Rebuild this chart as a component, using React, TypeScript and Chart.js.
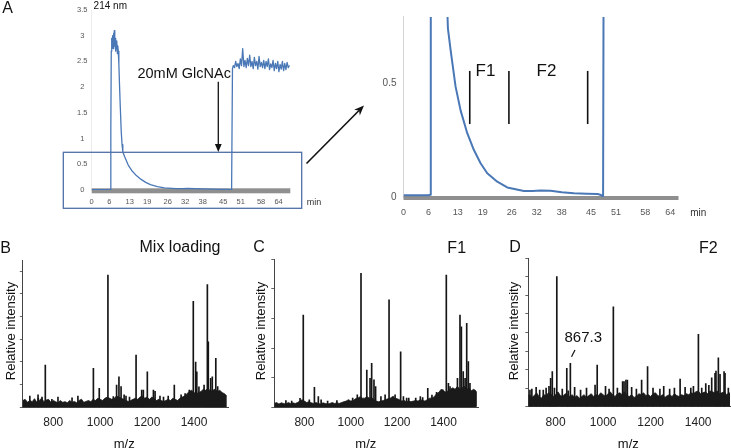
import React, { useEffect, useRef } from 'react';
import { Chart, registerables } from 'chart.js';

Chart.register(...registerables);

const FONT = '"Liberation Sans", Arial, Helvetica, sans-serif';
Chart.defaults.font.family = FONT;

// ---------- Panel A: UV trace (214 nm) ----------
const chromTime = [
  0, 2, 4, 6, 6.4, 6.55, 6.7, 6.85, 7.0, 7.15, 7.3, 7.45, 7.6, 7.75, 7.9, 8.05, 8.2, 8.35, 8.5, 8.65,
  8.8, 8.95, 9.1, 9.3, 9.55, 9.8, 10.1, 10.4, 10.66, 11.3, 12.5, 13.7, 15.3, 16.9, 18.5, 20.1, 22.5,
  24.9, 28.9, 31, 32.9, 35.3, 38, 40.9, 44, 46.6, 47.4, 47.9, 48.2, 48.5, 48.9, 49.3, 49.7, 50.1,
  50.5, 50.9, 51.3, 51.7, 52.1, 52.5, 52.9, 53.3, 53.7, 54.1, 54.5, 54.9, 55.3, 55.7, 56.1, 56.5,
  56.9, 57.3, 57.7, 58.1, 58.5, 58.9, 59.3, 59.7, 60.1, 60.5, 60.9, 61.3, 61.7, 62.1, 62.5, 62.9,
  63.3, 63.7, 64.1, 64.5, 64.9, 65.3, 65.7, 66.1, 66.5, 66.9, 67.3, 67.7,
];
const chromAbs = [
  0.008, 0.008, 0.008, 0.008, 0.01, 1.2, 2.7, 2.95, 2.8, 3.0, 2.75, 3.05, 2.85, 3.1, 2.8, 2.95, 2.7, 2.9, 2.75, 2.9,
  2.65, 2.8, 2.7, 2.45, 2.0, 1.6, 1.15, 0.88, 0.74, 0.645, 0.484, 0.38, 0.28, 0.206, 0.148, 0.104, 0.067,
  0.042, 0.026, 0.026, 0.029, 0.027, 0.021, 0.016, 0.014, 0.013, 0.009, 0.0, 2.36, 2.42, 2.38, 2.5, 2.4, 2.46,
  2.36, 2.55, 2.42, 2.75, 2.4, 2.52, 2.38, 2.56, 2.42, 2.62, 2.4, 2.5, 2.36, 2.58, 2.42, 2.5,
  2.35, 2.6, 2.4, 2.48, 2.38, 2.52, 2.36, 2.5, 2.4, 2.55, 2.34, 2.45, 2.38, 2.52, 2.32, 2.46,
  2.36, 2.5, 2.3, 2.44, 2.35, 2.5, 2.32, 2.46, 2.34, 2.48, 2.38, 2.42,
];
const timeTicks = [0, 6, 13, 19, 26, 32, 38, 45, 51, 58, 64];
const overviewYTicks = [0, 0.5, 1, 1.5, 2, 2.5, 3, 3.5];
const zoomYTicks = [0, 0.5];
const fractionBounds = [15.9, 25.3, 44.2];
const fractionSpan = [0.32, 0.553];

// ---------- Panels B-D: MALDI spectra ----------
const mzTicks = [800, 1000, 1200, 1400];
const noiseMz = [
  670, 680, 690, 700, 710, 720, 730, 740, 750, 760, 770, 780, 790, 800, 810, 820, 830, 840, 850,
  860, 870, 880, 890, 900, 910, 920, 930, 940, 950, 960, 970, 980, 990, 1000, 1010, 1020, 1030,
  1040, 1050, 1060, 1070, 1080, 1090, 1100, 1110, 1120, 1130, 1140, 1150, 1160, 1170, 1180, 1190,
  1200, 1210, 1220, 1230, 1240, 1250, 1260, 1270, 1280, 1290, 1300, 1310, 1320, 1330, 1340, 1350,
  1360, 1370, 1380, 1390, 1400, 1410, 1420, 1430, 1440, 1450, 1460, 1470, 1480, 1490, 1500, 1510,
  1520, 1530, 1540,
];
const noiseB = [
  0.3, 0.35, 0.22, 0.3, 0.25, 0.38, 0.22, 0.3, 0.4,
  0.25, 0.32, 0.35, 0.22, 0.3, 0.25, 0.2, 0.3, 0.22, 0.25,
  0.2, 0.3, 0.22, 0.26, 0.2, 0.3, 0.36, 0.22, 0.26, 0.3,
  0.25, 0.35, 0.3, 0.4, 0.35, 0.3, 0.4, 0.45, 0.4, 0.35,
  0.4, 0.5, 0.45, 0.4, 0.35, 0.3, 0.26, 0.3, 0.35, 0.4,
  0.35, 0.45, 0.5, 0.4, 0.45, 0.35, 0.45, 0.4, 0.3, 0.35,
  0.3, 0.26, 0.3, 0.35, 0.3, 0.4, 0.35, 0.3, 0.4, 0.45,
  0.5, 0.6, 0.7, 0.75, 0.65, 0.6, 0.65, 0.7, 0.8, 0.75,
  0.85, 0.7, 0.75, 0.8, 0.7, 0.75, 0.65, 0.6, 0.5,
];
const noiseC = [
  0.12, 0.15, 0.1, 0.14, 0.12, 0.1, 0.15, 0.12, 0.14,
  0.12, 0.15, 0.2, 0.25, 0.2, 0.15, 0.18, 0.14, 0.12, 0.15,
  0.12, 0.1, 0.14, 0.12, 0.1, 0.12, 0.15, 0.12, 0.14, 0.12,
  0.15, 0.18, 0.2, 0.25, 0.2, 0.22, 0.28, 0.3, 0.35, 0.3,
  0.3, 0.35, 0.3, 0.32, 0.25, 0.2, 0.18, 0.2, 0.22, 0.25,
  0.28, 0.3, 0.35, 0.3, 0.28, 0.25, 0.2, 0.22, 0.18, 0.2,
  0.18, 0.2, 0.22, 0.2, 0.25, 0.22, 0.2, 0.25, 0.3, 0.3,
  0.35, 0.45, 0.5, 0.6, 0.55, 0.5, 0.55, 0.6, 0.65, 0.6,
  0.7, 0.6, 0.65, 0.7, 0.6, 0.65, 0.55, 0.6, 0.55,
];
const noiseD = [
  0.45, 0.55, 0.65, 0.5, 0.6, 0.75, 0.55, 0.45, 0.65,
  0.6, 0.75, 0.7, 0.55, 0.65, 0.8, 0.6, 0.55, 0.7, 0.65,
  0.55, 0.65, 0.5, 0.6, 0.45, 0.55, 0.65, 0.5, 0.6, 0.7,
  0.55, 0.65, 0.6, 0.75, 0.65, 0.55, 0.7, 0.8, 0.65, 0.55,
  0.7, 0.75, 0.65, 0.8, 0.6, 0.55, 0.65, 0.5, 0.55, 0.7,
  0.65, 0.75, 0.6, 0.65, 0.55, 0.7, 0.75, 0.6, 0.55, 0.65,
  0.5, 0.6, 0.65, 0.55, 0.7, 0.6, 0.55, 0.65, 0.6, 0.7,
  0.65, 0.75, 0.7, 0.8, 0.85, 0.7, 0.75, 0.8, 0.7, 0.85,
  0.8, 0.75, 0.85, 0.7, 0.75, 0.8, 0.65, 0.75, 0.7,
];

const peaksMzB = [
  700, 735, 736, 752, 766, 794, 820, 880, 905, 971, 996, 1033, 1056, 1070, 1080, 1089, 1102, 1110, 1125,
  1153, 1177, 1184, 1201, 1227, 1234, 1255, 1270, 1290, 1316, 1345, 1362, 1380, 1397, 1407, 1412, 1421,
  1443, 1457, 1461, 1471, 1478, 1493, 1501, 1511, 1525,
];
const peaksIntB = [
  0.5, 0.55, 0.4, 0.45, 1.86, 0.35, 0.45, 0.42, 0.5, 1.72, 0.84, 5.83, 0.47, 0.98, 1.35, 0.91, 0.55, 0.5, 0.45,
  2.3, 0.76, 0.76, 1.57, 0.76, 0.7, 0.5, 0.45, 0.5, 0.98, 0.55, 0.6, 0.76, 4.68, 2.0, 1.57, 0.9,
  0.98, 5.42, 2.89, 1.28, 1.35, 2.16, 0.91, 0.62, 0.55,
];

const peaksMzC = [
  720, 745, 781, 795, 821, 843, 860, 872, 900, 940, 1008, 1028, 1044, 1069, 1083, 1090, 1100, 1107, 1130,
  1148, 1165, 1183, 1191, 1215, 1227, 1241, 1250, 1280, 1300, 1310, 1332, 1350, 1370, 1397, 1412, 1421,
  1428, 1460, 1471, 1477, 1485, 1493, 1500, 1507, 1514, 1529, 1540,
];
const peaksIntC = [
  0.22, 0.2, 0.29, 3.12, 0.24, 0.67, 0.35, 0.24, 0.2, 0.22, 0.3, 0.41, 4.53, 1.25, 0.97, 1.48, 0.92, 0.69, 0.35,
  0.41, 3.63, 0.35, 0.41, 1.87, 0.35, 0.3, 0.3, 0.3, 0.35, 0.32, 0.63, 0.4, 0.5, 0.58, 4.47, 0.8,
  0.69, 0.97, 3.12, 2.72, 1.2, 0.97, 2.84, 1.54, 0.8, 0.52, 0.52,
];

const peaksMzD = [
  692, 700, 718, 733, 748, 760, 772, 779, 786, 795, 805, 828, 847, 853, 862, 880, 905, 930, 966, 975,
  1010, 1025, 1043, 1060, 1082, 1088, 1096, 1102, 1120, 1140, 1162, 1187, 1210, 1239, 1255, 1280, 1300,
  1324, 1345, 1369, 1380, 1401, 1415, 1432, 1445, 1457, 1471, 1475, 1485, 1492, 1509, 1513, 1527,
];
const peaksIntD = [
  0.9, 0.95, 1.05, 0.9, 0.9, 1.0, 1.1, 1.53, 1.89, 1.0, 7.01, 0.95, 2.07, 0.86, 2.34, 1.05, 0.9, 1.0, 1.17, 2.25,
  1.1, 0.95, 5.39, 1.0, 1.35, 1.35, 1.44, 1.44, 1.05, 0.95, 1.44, 2.16, 1.0, 0.95, 1.1, 0.95, 1.0,
  1.49, 1.05, 1.0, 1.1, 3.9, 1.0, 1.25, 1.15, 1.56, 1.8, 1.92, 2.64, 1.75, 1.9, 1.8, 1.0,
];
const yTicksB = [0, 1, 2, 3, 4, 5, 6];
const yTicksC = [0, 1, 2, 3, 4, 5];
const yTicksD = [0, 1, 2, 3, 4, 5, 6, 7, 8];

// ---------- helpers ----------
type Box = { x: number; y: number; w: number; h: number };
type Plot = { l: number; t: number; r: number; b: number };

const BLUE = '#4a78b6';

function framePadding(box: Box, plot: Plot, yW: number, xH: number) {
  return {
    left: plot.l - box.x - yW,
    top: plot.t - box.y,
    right: box.x + box.w - plot.r,
    bottom: box.y + box.h - plot.b - xH,
  };
}

const axisBarPlugin = {
  id: 'axisBar',
  beforeDatasetsDraw(chart: any, _args: any, opts: any) {
    const { ctx, chartArea, scales } = chart;
    const x0 = scales.x.getPixelForValue(0);
    const y0 = scales.y.getPixelForValue(0);
    ctx.save();
    ctx.fillStyle = opts.color;
    ctx.fillRect(x0, y0 + opts.offset, chartArea.right - x0, opts.thickness);
    ctx.restore();
  },
};

const fractionPlugin = {
  id: 'fractionMarks',
  afterDatasetsDraw(chart: any) {
    const { ctx, scales } = chart;
    ctx.save();
    ctx.strokeStyle = '#111';
    ctx.lineWidth = 1.6;
    fractionBounds.forEach((t) => {
      const px = scales.x.getPixelForValue(t);
      ctx.beginPath();
      ctx.moveTo(px, scales.y.getPixelForValue(fractionSpan[1]));
      ctx.lineTo(px, scales.y.getPixelForValue(fractionSpan[0]));
      ctx.stroke();
    });
    ctx.restore();
  },
};

function chromChart(
  canvas: HTMLCanvasElement,
  box: Box,
  plot: Plot,
  o: { xMax: number; yMax: number; yTicks: number[]; lw: number; xFont: number; xPad: number; yFont: number; yPad: number; yAlign: 'near' | 'center'; yBorder: string; bar: any; extra: any[] }
) {
  const yW = 30;
  const xH = 25;
  return new Chart(canvas, {
    type: 'line',
    data: {
      datasets: [
        {
          data: chromTime.map((t, i) => ({ x: t, y: chromAbs[i] })),
          borderColor: BLUE,
          borderWidth: o.lw,
          pointRadius: 0,
          tension: 0,
          borderJoinStyle: 'round',
          clip: 0,
        } as any,
      ],
    },
    options: {
      responsive: false,
      animation: false,
      devicePixelRatio: 1,
      layout: { padding: framePadding(box, plot, yW, xH) },
      plugins: { legend: { display: false }, tooltip: { enabled: false }, axisBar: o.bar } as any,
      scales: {
        x: {
          type: 'linear',
          min: 0,
          max: o.xMax,
          afterFit: (s: any) => { s.height = xH; },
          afterBuildTicks: (s: any) => { s.ticks = timeTicks.map((v) => ({ value: v })); },
          grid: { display: false, drawTicks: false },
          border: { display: false },
          ticks: { font: { size: o.xFont, family: FONT }, color: '#555', padding: o.xPad, maxRotation: 0, autoSkip: false, callback: (v: any) => String(v) },
        },
        y: {
          min: 0,
          max: o.yMax,
          afterFit: (s: any) => { s.width = yW; },
          afterBuildTicks: (s: any) => { s.ticks = o.yTicks.map((v) => ({ value: v })); },
          grid: { display: false, drawTicks: false },
          border: { display: true, color: o.yBorder, width: 1 },
          ticks: { font: { size: o.yFont, family: FONT }, color: '#555', padding: o.yPad, crossAlign: o.yAlign, autoSkip: false, callback: (v: any) => String(v) },
        },
      },
    } as any,
    plugins: [axisBarPlugin, ...o.extra],
  });
}

function spectrumChart(
  canvas: HTMLCanvasElement,
  box: Box,
  plot: Plot,
  o: { xMin: number; xMax: number; yMax: number; yTicks: number[]; noise: number[]; mz: number[]; inten: number[] }
) {
  const yW = 15;
  const xH = 30;
  return new Chart(canvas, {
    type: 'bar',
    data: {
      datasets: [
        {
          type: 'line',
          data: noiseMz.map((m, i) => ({ x: m, y: o.noise[i] })),
          borderColor: '#1a1a1a',
          backgroundColor: '#1a1a1a',
          borderWidth: 0.8,
          pointRadius: 0,
          tension: 0,
          fill: 'origin',
          clip: 0,
        } as any,
        {
          type: 'bar',
          data: o.mz.map((m, i) => ({ x: m, y: o.inten[i] })),
          backgroundColor: '#151515',
          barThickness: 1,
          clip: 0,
        } as any,
      ],
    },
    options: {
      responsive: false,
      animation: false,
      devicePixelRatio: 1,
      layout: { padding: framePadding(box, plot, yW, xH) },
      plugins: { legend: { display: false }, tooltip: { enabled: false } },
      scales: {
        x: {
          type: 'linear',
          min: o.xMin,
          max: o.xMax,
          offset: false,
          afterFit: (s: any) => { s.height = xH; },
          afterBuildTicks: (s: any) => { s.ticks = mzTicks.map((v) => ({ value: v })); },
          grid: { display: false, drawTicks: false, offset: false },
          border: { display: true, color: '#444', width: 1 },
          ticks: { font: { size: 12, family: FONT }, color: '#222', padding: 8.3, maxRotation: 0, autoSkip: false, callback: (v: any) => String(v) },
        },
        y: {
          min: 0,
          max: o.yMax,
          afterFit: (s: any) => { s.width = yW; },
          afterBuildTicks: (s: any) => { s.ticks = o.yTicks.map((v) => ({ value: v })); },
          grid: { display: true, drawOnChartArea: false, drawTicks: true, tickLength: 3, color: '#666', lineWidth: 1 },
          border: { display: true, color: '#444', width: 1 },
          ticks: { display: false },
        },
      },
    } as any,
  });
}

function ChartCanvas({ box, make }: { box: Box; make: (c: HTMLCanvasElement) => Chart }) {
  const ref = useRef<HTMLCanvasElement>(null);
  useEffect(() => {
    const ch = make(ref.current as HTMLCanvasElement);
    return () => ch.destroy();
  }, []);
  return (
    <canvas
      ref={ref}
      width={box.w}
      height={box.h}
      style={{ position: 'absolute', left: box.x, top: box.y, width: box.w, height: box.h }}
    />
  );
}

function Label({ x, y, text, size, rotate, color }: { x: number; y: number; text: string; size: number; rotate?: number; color?: string }) {
  return (
    <div
      style={{
        position: 'absolute',
        left: x,
        top: y,
        transform: `translate(-50%, -50%)${rotate ? ` rotate(${rotate}deg)` : ''}`,
        fontFamily: FONT,
        fontSize: size,
        lineHeight: 1,
        whiteSpace: 'nowrap',
        color: color || '#111',
      }}
    >
      {text}
    </div>
  );
}

const boxOverview: Box = { x: 0, y: 0, w: 300, h: 215 };
const plotOverview: Plot = { l: 91.7, t: 10, r: 290.3, b: 190 };
const boxZoom: Box = { x: 360, y: 0, w: 371, h: 230 };
const plotZoom: Plot = { l: 403.5, t: 16.9, r: 678.5, b: 197 };
const boxB: Box = { x: 0, y: 250, w: 240, h: 198 };
const plotB: Plot = { l: 22.8, t: 260, r: 228, b: 407.3 };
const boxC: Box = { x: 240, y: 250, w: 245, h: 198 };
const plotC: Plot = { l: 274.3, t: 259.5, r: 478.3, b: 407 };
const boxD: Box = { x: 490, y: 250, w: 241, h: 198 };
const plotD: Plot = { l: 528.3, t: 258.3, r: 730, b: 406.7 };

export default function App() {
  return (
    <div style={{ position: 'absolute', left: 0, top: 0, width: 731, height: 448, background: '#fff', overflow: 'hidden' }}>
      <ChartCanvas
        box={boxOverview}
        make={(c) =>
          chromChart(c, boxOverview, plotOverview, {
            xMax: 68, yMax: 3.5, yTicks: overviewYTicks, lw: 1.3, xFont: 7.5, xPad: 7, yFont: 7.5, yPad: 4.2,
            yAlign: 'center', yBorder: '#ececec', bar: { color: '#8f8f8f', offset: -1.7, thickness: 5 }, extra: [],
          })
        }
      />
      <ChartCanvas
        box={boxZoom}
        make={(c) =>
          chromChart(c, boxZoom, plotZoom, {
            xMax: 66, yMax: 0.79, yTicks: zoomYTicks, lw: 2, xFont: 9, xPad: 10.3, yFont: 10, yPad: 7,
            yAlign: 'near', yBorder: '#d4d4d4', bar: { color: '#8f8f8f', offset: -1, thickness: 4 }, extra: [fractionPlugin],
          })
        }
      />
      <ChartCanvas
        box={boxB}
        make={(c) => spectrumChart(c, boxB, plotB, { xMin: 670, xMax: 1545, yMax: 6.5, yTicks: yTicksB, noise: noiseB, mz: peaksMzB, inten: peaksIntB })}
      />
      <ChartCanvas
        box={boxC}
        make={(c) => spectrumChart(c, boxC, plotC, { xMin: 670, xMax: 1550, yMax: 5, yTicks: yTicksC, noise: noiseC, mz: peaksMzC, inten: peaksIntC })}
      />
      <ChartCanvas
        box={boxD}
        make={(c) => spectrumChart(c, boxD, plotD, { xMin: 685, xMax: 1534, yMax: 8, yTicks: yTicksD, noise: noiseD, mz: peaksMzD, inten: peaksIntD })}
      />

      <svg width={731} height={448} style={{ position: 'absolute', left: 0, top: 0, pointerEvents: 'none' }}>
        <rect x={63.3} y={152.3} width={238.4} height={56} fill="none" stroke="#4f6fa6" strokeWidth={1.3} />
        <line x1={218.3} y1={81.7} x2={218.3} y2={145} stroke="#111" strokeWidth={1.3} />
        <polygon points="214.9,144 221.7,144 218.3,152" fill="#111" />
        <line x1={306.5} y1={163.5} x2={359} y2={110.5} stroke="#111" strokeWidth={1.6} />
        <polygon points="364,105.5 359.8,115.4 359.05,110.45 354.1,109.8" fill="#111" />
        <line x1={575} y1={350} x2={571.5} y2={356.7} stroke="#111" strokeWidth={1.2} />
      </svg>

      <Label x={7.5} y={7.5} text="A" size={16} />
      <Label x={110.3} y={6} text="214 nm" size={10} />
      <Label x={184.2} y={73.3} text="20mM GlcNAc" size={14.5} />
      <Label x={314} y={201.5} text="min" size={9} color="#333" />
      <Label x={698.3} y={212.7} text="min" size={10} color="#333" />
      <Label x={485.5} y={70} text="F1" size={17} />
      <Label x={546.5} y={70} text="F2" size={17} />

      <Label x={5.5} y={247.5} text="B" size={16} />
      <Label x={259} y={246.7} text="C" size={16} />
      <Label x={515} y={246.5} text="D" size={16} />
      <Label x={180} y={246.5} text="Mix loading" size={16} />
      <Label x={456.7} y={248} text="F1" size={16} />
      <Label x={708.3} y={248} text="F2" size={16} />
      <Label x={10} y={331} text="Relative intensity" size={13} rotate={-90} />
      <Label x={260} y={331} text="Relative intensity" size={13} rotate={-90} />
      <Label x={513} y={331} text="Relative intensity" size={13} rotate={-90} />
      <Label x={124.2} y={443} text="m/z" size={13} />
      <Label x={365.8} y={442.5} text="m/z" size={13} />
      <Label x={628.3} y={442.5} text="m/z" size={13} />
      <Label x={583.3} y={336} text="867.3" size={15} />
    </div>
  );
}
